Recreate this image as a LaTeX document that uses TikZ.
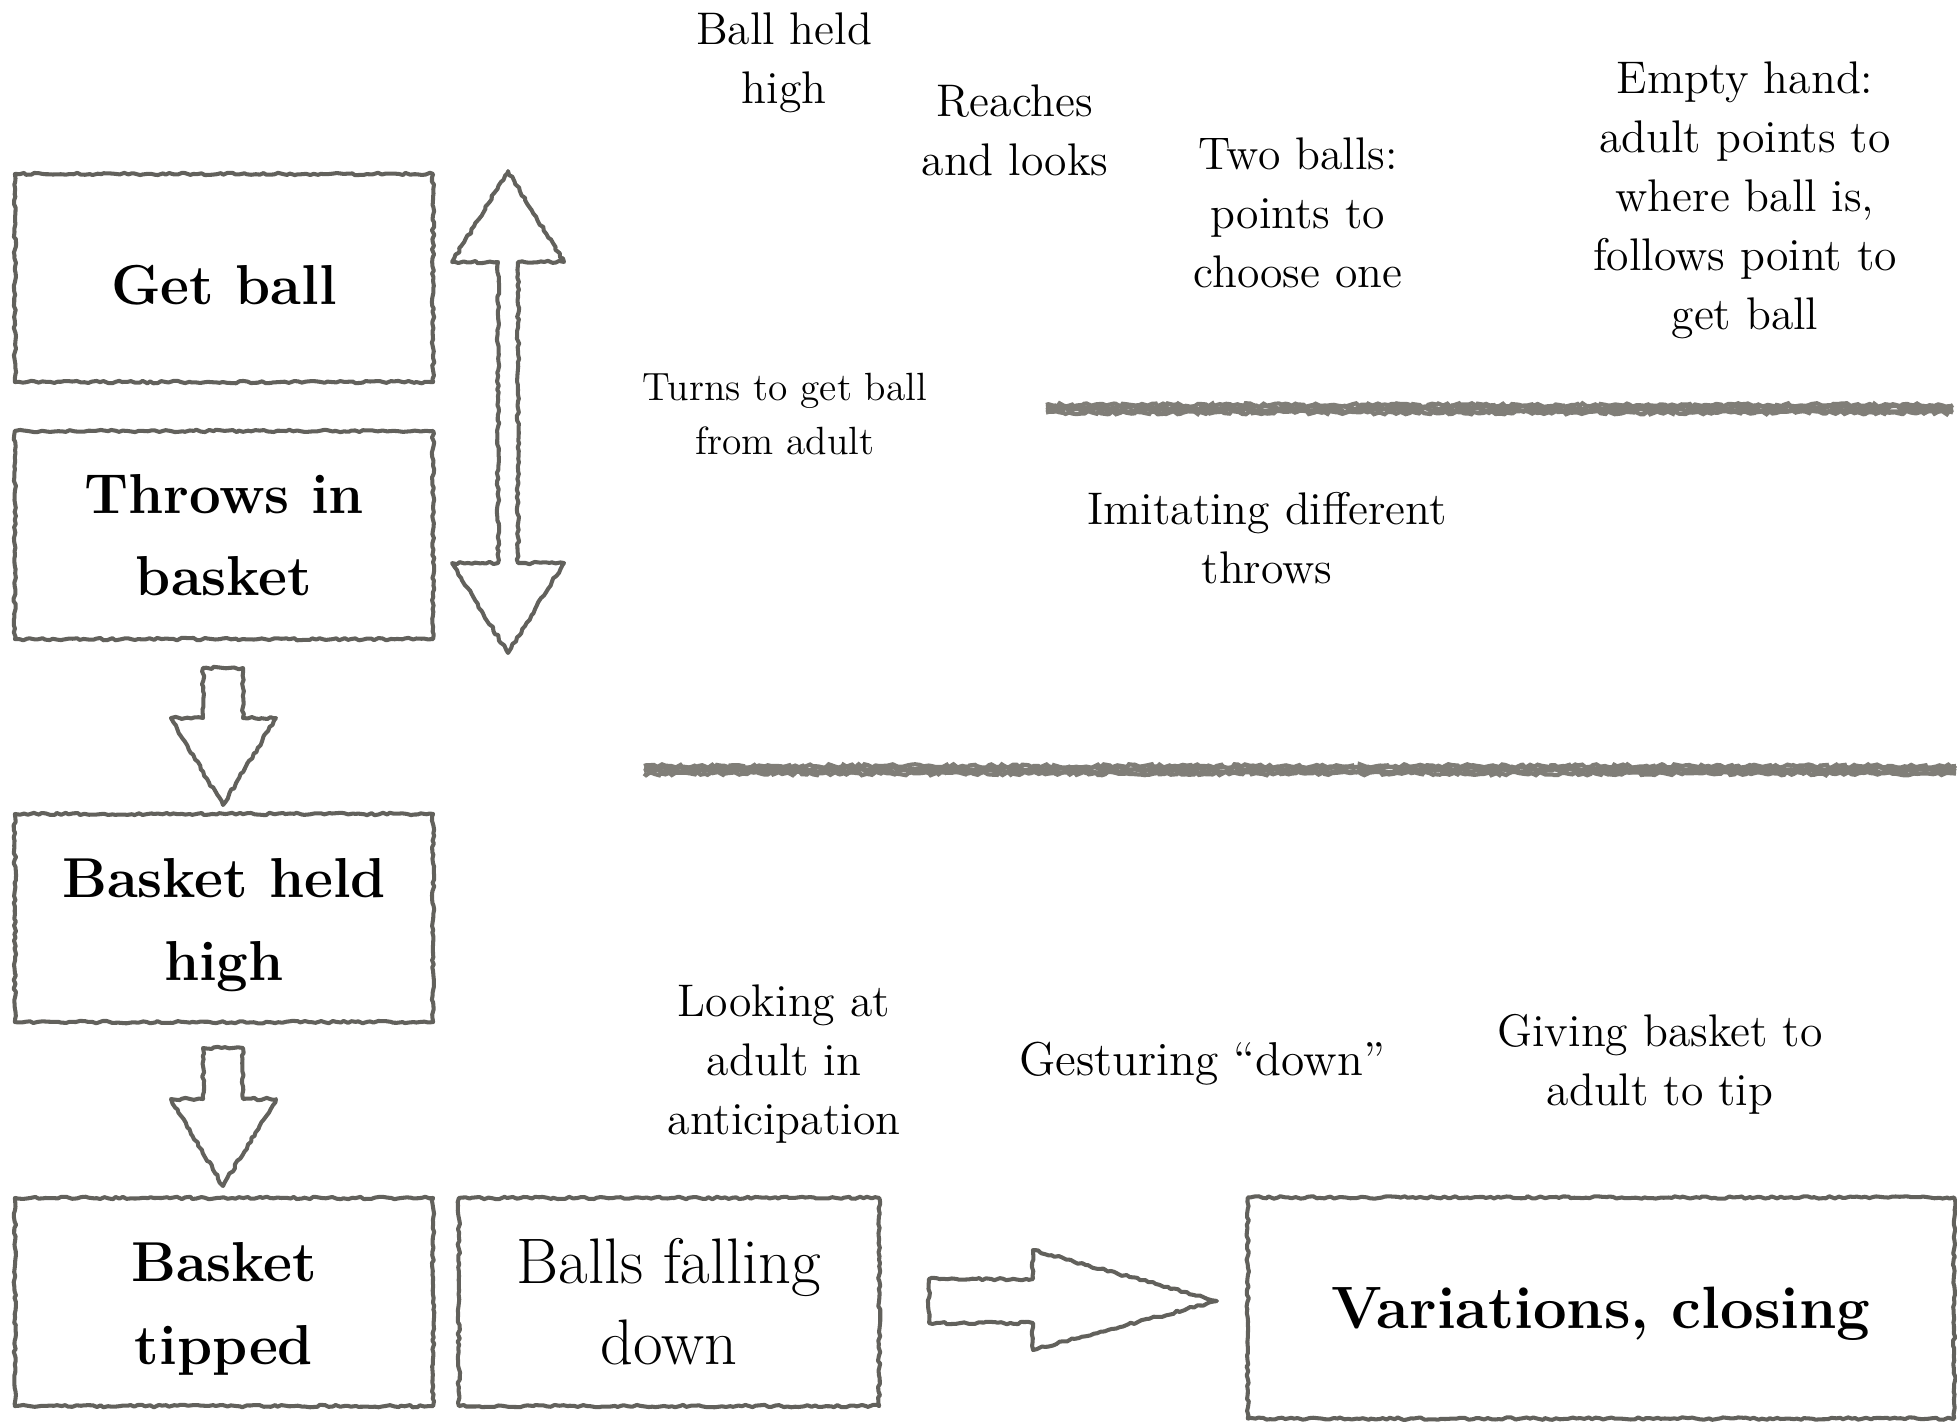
\documentclass[tikz,border=0pt]{standalone}
\usetikzlibrary{decorations.pathmorphing,calc}
\definecolor{ink}{RGB}{98,97,92}
\definecolor{rulegray}{RGB}{128,126,120}
\newcommand{\dropby}[2]{\raisebox{-#1}[\height][\depth]{#2}}
\begin{document}
\pgfmathsetseed{7}
\begin{tikzpicture}[x=0.01cm,y=-0.01cm,
  rough/.style={draw=ink, line width=1.15pt, line join=round, decorate,
    decoration={random steps,segment length=1.1pt,amplitude=0.35pt}},
  box/.style={rough, minimum width=4.18cm, minimum height=2.08cm, align=center, inner sep=0pt},
  boxtxt/.style={font=\fontsize{16}{23.4}\selectfont\bfseries},
  lbl/.style={align=center, inner sep=0pt, font=\fontsize{13}{16.8}\selectfont},
  heavy/.style={draw=rulegray, line width=1.2pt, decorate,
    decoration={random steps,segment length=1pt,amplitude=0.5pt}}]
\useasboundingbox (0,0) rectangle (1957,1423);

% boxes
\node[box, boxtxt] (getball) at (224,278) {\dropby{2pt}{Get ball}};
\node[box, boxtxt] (throws) at (224,535) {Throws in\\basket};
\node[box, boxtxt] (held) at (224,918) {\dropby{2pt}{Basket held}\\\dropby{2pt}{high}};
\node[box, boxtxt] (tipped) at (224,1302) {\dropby{2pt}{Basket}\\\dropby{2pt}{tipped}};
\node[box, font=\fontsize{18.3}{23}\selectfont, minimum width=4.2cm] (falling) at (669,1302) {Balls falling\\down};
\node[box, font=\fontsize{17}{23}\selectfont\bfseries, minimum width=7.06cm, minimum height=2.21cm] (var) at (1601,1308) {\dropby{1.5pt}{Variations, closing}};

% block arrows
\draw[rough] (508,171) -- (564,262) -- (518,262) -- (518,563) -- (564,563) -- (508,653)
  -- (452,563) -- (498,563) -- (498,262) -- (452,262) -- cycle;
\draw[rough] (203,668) -- (243,668) -- (243,718) -- (276,718) -- (223,805) -- (171,718) -- (203,718) -- cycle;
\draw[rough] (203,1048) -- (243,1048) -- (243,1099) -- (276,1099) -- (223,1186) -- (171,1099) -- (203,1099) -- cycle;
\draw[rough] (929,1279) -- (1033,1279) -- (1033,1250) -- (1217,1301) -- (1033,1350) -- (1033,1323) -- (929,1323) -- cycle;

% heavy rules
\foreach \d in {-4,-1.5,1,3.5}{
  \draw[heavy] (1046,409+\d) -- (1953,409+\d);
  \draw[heavy] (644,770+\d) -- (1956,770+\d);
}

% labels
\node[lbl] (l1) at (784,63) {Ball held\\high};
\node[lbl] (l2) at (1015,130) {Reaches\\and looks};
\node[lbl] (l3) at (1298,213) {Two balls:\\points to\\choose one};
\node[lbl] (l4) at (1745,200) {Empty hand:\\adult points to\\where ball is,\\follows point to\\get ball};
\node[lbl, font=\fontsize{11.2}{15.4}\selectfont] (l5) at (785,414) {Turns to get ball\\from adult};
\node[lbl] (l6) at (1267,538) {Imitating different\\throws};
\node[lbl] (l7) at (784,1064) {Looking at\\adult in\\anticipation};
\node[lbl, font=\fontsize{13.5}{16.8}\selectfont] (l8) at (1202,1064) {Gesturing ``down''};
\node[lbl] (l9) at (1660,1064) {Giving basket to\\adult to tip};
\end{tikzpicture}
\end{document}
